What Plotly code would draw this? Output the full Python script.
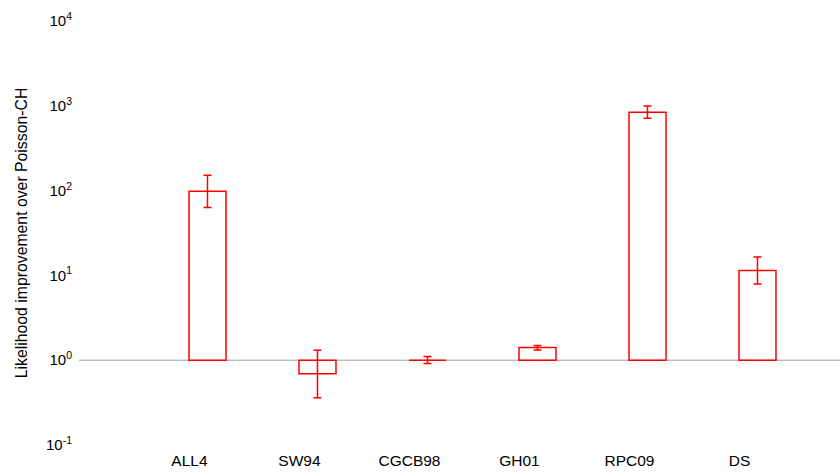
import plotly.graph_objects as go

# ---- data ----
categories = ["ALL4", "SW94", "CGCB98", "GH01", "RPC09", "DS"]
positions = [1, 2, 3, 4, 5, 6]
improvement = [98.0, 0.69, 1.0, 1.41, 840.0, 11.4]
err_high = [152.0, 1.31, 1.105, 1.49, 995.0, 16.5]
err_low = [63.0, 0.36, 0.914, 1.32, 714.0, 7.94]
baseline = 1.0

# category labels sit slightly left of the bar centres in the reference
label_shift = -0.164

ytick_vals = [0.1, 1, 10, 100, 1000, 10000]
ytick_text = ["10<sup>-1</sup>", "10<sup>0</sup>", "10<sup>1</sup>",
              "10<sup>2</sup>", "10<sup>3</sup>", "10<sup>4</sup>"]

RED = "#ff0000"

fig = go.Figure()

fig.add_trace(go.Bar(
    x=positions,
    y=[v - baseline for v in improvement],
    base=baseline,
    width=0.336,
    marker=dict(color="rgba(255,255,255,0)", line=dict(color=RED, width=1.5)),
    showlegend=False,
    hoverinfo="skip",
))

fig.add_trace(go.Scatter(
    x=positions,
    y=improvement,
    mode="markers",
    marker=dict(size=1, color="rgba(0,0,0,0)"),
    error_y=dict(
        type="data",
        symmetric=False,
        array=[h - v for h, v in zip(err_high, improvement)],
        arrayminus=[v - l for l, v in zip(err_low, improvement)],
        color=RED,
        thickness=1.5,
        width=4,
    ),
    showlegend=False,
    hoverinfo="skip",
))

fig.add_shape(type="line", xref="paper", x0=0, x1=1, yref="y", y0=baseline, y1=baseline,
              line=dict(color="#a0a0a0", width=1), layer="below")

fig.update_layout(
    width=840, height=473,
    margin=dict(l=79, r=0, t=21, b=28),
    paper_bgcolor="white",
    plot_bgcolor="white",
    font=dict(family="Liberation Sans, Arial, sans-serif", color="#000000"),
    xaxis=dict(
        range=[-0.168, 6.75],
        tickvals=[p + label_shift for p in positions],
        ticktext=categories,
        showgrid=False, zeroline=False, showline=False,
        ticks="",
        tickfont=dict(size=15.5),
        ticklabelstandoff=4,
    ),
    yaxis=dict(
        type="log",
        range=[-1, 4],
        tickvals=ytick_vals,
        ticktext=ytick_text,
        showgrid=False, zeroline=False, showline=False,
        ticks="",
        tickfont=dict(size=15),
        ticklabelstandoff=6,
        title=dict(text="Likelihood improvement over Poisson-CH",
                   font=dict(size=15.8), standoff=14),
    ),
)

fig.write_html("out.html")
